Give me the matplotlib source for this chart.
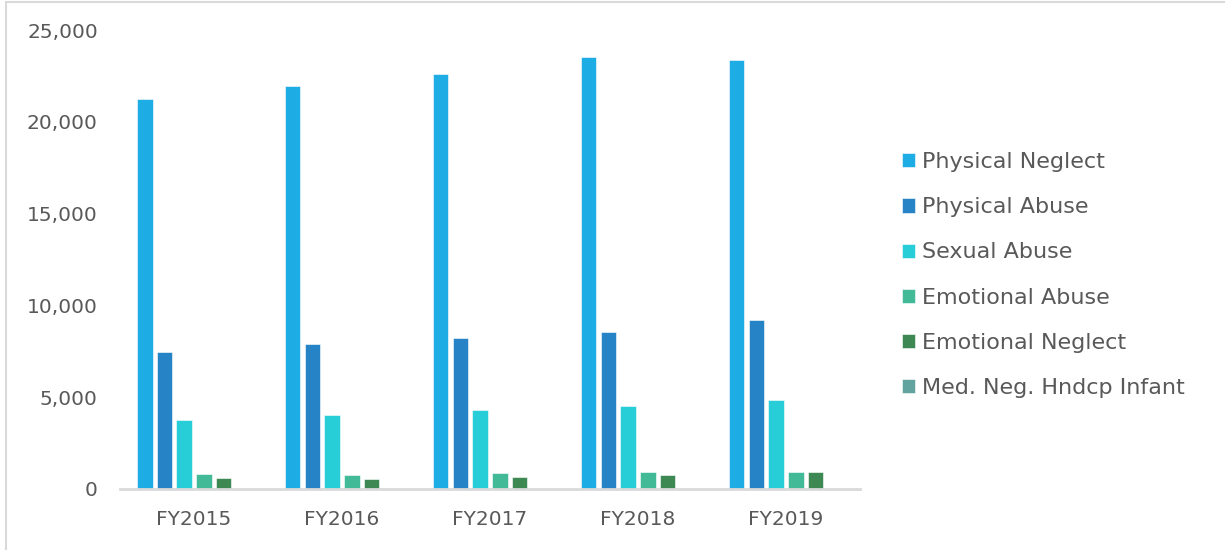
import matplotlib.pyplot as plt
import numpy as np
from matplotlib.patches import Rectangle
from matplotlib.ticker import FuncFormatter

years = ["FY2015", "FY2016", "FY2017", "FY2018", "FY2019"]
physical_neglect = [21280, 21950, 22640, 23530, 23400]
physical_abuse = [7460, 7900, 8220, 8570, 9190]
sexual_abuse = [3760, 4050, 4330, 4500, 4850]
emotional_abuse = [820, 750, 870, 925, 925]
emotional_neglect = [580, 540, 650, 745, 925]
med_neg_infant = [5, 5, 5, 5, 5]

series = [
    ("Physical Neglect", physical_neglect, "#1DADE4"),
    ("Physical Abuse", physical_abuse, "#2683C6"),
    ("Sexual Abuse", sexual_abuse, "#27CED7"),
    ("Emotional Abuse", emotional_abuse, "#42BA97"),
    ("Emotional Neglect", emotional_neglect, "#3E8853"),
    ("Med. Neg. Hndcp Infant", med_neg_infant, "#62A39F"),
]

plt.rcParams["font.family"] = ["DejaVu Sans"]
text_color = "#595959"

fig = plt.figure(figsize=(12.25, 5.5), dpi=100)
ax = fig.add_axes([0.098, 0.111, 0.604, 0.834])

x = np.arange(len(years))
step = 0.8 / len(series)
width = step * 0.79
for i, (name, vals, color) in enumerate(series):
    offset = (i - (len(series) - 1) / 2) * step
    ax.bar(x + offset, vals, width, color=color, label=name,
           edgecolor="white", linewidth=0.4)

ax.set_xlim(-0.5, len(years) - 0.5)
ax.set_ylim(0, 25000)
ax.set_yticks(np.arange(0, 25001, 5000))
ax.yaxis.set_major_formatter(FuncFormatter(lambda v, p: f"{int(v):,}"))
ax.set_xticks(x)
ax.set_xticklabels(years)
ax.tick_params(axis="both", length=0, labelsize=14.5, labelcolor=text_color)
ax.tick_params(axis="x", pad=15)
ax.tick_params(axis="y", pad=16)

for side in ["top", "right", "left"]:
    ax.spines[side].set_visible(False)
ax.spines["bottom"].set_color("#d9d9d9")
ax.spines["bottom"].set_linewidth(2)

leg = fig.legend(loc="center left", bbox_to_anchor=(0.72, 0.5), frameon=False,
                 fontsize=16, handlelength=0.6, handleheight=0.6,
                 handletextpad=0.3, labelspacing=1.13)
for t in leg.get_texts():
    t.set_color(text_color)

# outer chart border
fig.patches.append(Rectangle((0.005, -0.01), 1.0, 1.006, transform=fig.transFigure,
                             fill=False, edgecolor="#d9d9d9", linewidth=1.5))

fig.savefig("out.png", dpi=100)
